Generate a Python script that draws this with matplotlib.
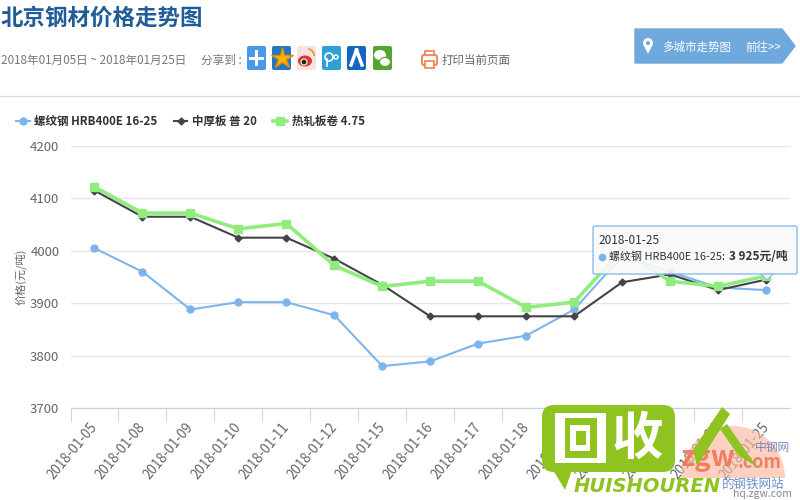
import numpy as np
import matplotlib
matplotlib.use('Agg')
import matplotlib.pyplot as plt
from matplotlib.patches import FancyBboxPatch, Polygon, Circle, Wedge, Rectangle, Ellipse
from matplotlib.transforms import ScaledTranslation

plt.rcParams['font.family'] = ['Noto Sans CJK SC', 'DejaVu Sans']

dates = ['2018-01-05', '2018-01-08', '2018-01-09', '2018-01-10', '2018-01-11',
         '2018-01-12', '2018-01-15', '2018-01-16', '2018-01-17', '2018-01-18',
         '2018-01-19', '2018-01-22', '2018-01-23', '2018-01-24', '2018-01-25']
rebar = [4005, 3960, 3888, 3902, 3902, 3877, 3780, 3789, 3823, 3838, 3888, 3990, 3960, 3930, 3925]
plate = [4115, 4065, 4065, 4025, 4025, 3985, 3935, 3875, 3875, 3875, 3875, 3940, 3955, 3925, 3945]
coil = [4122, 4072, 4072, 4042, 4052, 3972, 3932, 3942, 3942, 3892, 3902, 4002, 3942, 3932, 3952]
yticks = [3700, 3800, 3900, 4000, 4100, 4200]

blue = '#7cb5ec'
dark = '#434348'
green = '#90ed7d'

fig = plt.figure(figsize=(8, 5), dpi=100)
ax = fig.add_axes([70.5/800, 92/500, 719.5/800, 262/500])
x = np.arange(len(dates))
ax.plot(x, rebar, c=blue, lw=1.5, marker='o', ms=5, label='螺纹钢 HRB400E 16-25')
ax.plot(x, plate, c=dark, lw=1.5, marker='D', ms=3.5, label='中厚板 普 20')
ax.plot(x, coil, c=green, lw=2.6, marker='s', ms=5.5, label='热轧板卷 4.75')
ax.set_xlim(-0.5, 14.5)
ax.set_ylim(3700, 4200)
ax.set_yticks(yticks)
ax.grid(axis='y', color='#e6e6e6', lw=1)
ax.set_axisbelow(True)
for s in ['top', 'right', 'left']:
    ax.spines[s].set_visible(False)
ax.spines['bottom'].set_color('#c0d0e0')
ax.tick_params(axis='y', length=0, labelsize=9.5, labelcolor='#666666', pad=8)
ax.set_xticks(x - 0.5, minor=True)
ax.tick_params(axis='x', which='minor', length=10, color='#c0d0e0')
ax.tick_params(axis='x', which='major', length=0)
ax.set_xticks(x)
ax.set_xticklabels(dates, rotation=50, ha='right', va='top', rotation_mode='anchor',
                   fontsize=9.7, color='#666666')
ax.tick_params(axis='x', which='major', pad=9)
# nudge the date labels a few pixels left
shift = ScaledTranslation(-5/100, 0, fig.dpi_scale_trans)
for lab in ax.get_xticklabels():
    lab.set_transform(lab.get_transform() + shift)
ax.set_ylabel('价格(元/吨)', fontsize=8, color='#666666')
ax.yaxis.set_label_coords(-44/719.5, 0.5)
ax.legend(loc='upper left', bbox_to_anchor=(-0.076, 1.12), ncol=3, frameon=False,
          prop={'size': 8.3, 'weight': 'bold'}, labelcolor='#333333', handlelength=1.2,
          handletextpad=0.4, columnspacing=1.4, borderpad=0, borderaxespad=0)

# page header, tooltip and watermarks in pixel coordinates
top = fig.add_axes([0, 0, 1, 1], zorder=5)
top.set_xlim(0, 800)
top.set_ylim(500, 0)
top.axis('off')
top.patch.set_alpha(0)

top.text(1, 18, '北京钢材价格走势图', fontsize=16.2, weight='bold', color='#1f5c99', va='center')
top.text(1, 60, '2018年01月05日 ~ 2018年01月25日', fontsize=8.4, color='#777777', va='center')
top.text(201, 60, '分享到 :', fontsize=8.4, color='#777777', va='center')
top.plot([0, 800], [96, 96], c='#dddddd', lw=1)

icon_cols = ['#4a98e8', '#1f78c8', '#f6e2de', '#2f9fd6', '#1565c0', '#55a630']
icon_x = [247, 272, 297, 322, 347, 373]
for ix, col in zip(icon_x, icon_cols):
    top.add_patch(FancyBboxPatch((ix, 46), 19, 24, boxstyle='round,pad=0,rounding_size=2',
                                 fc=col, ec='none'))
# share icons
top.add_patch(Rectangle((249, 56.5), 15, 3, fc='white', ec='none'))
top.add_patch(Rectangle((255, 50), 3, 16, fc='white', ec='none'))
top.plot([281.5], [58], marker='*', ms=16, c='#f5b50a', mec='#e08a00')
top.add_patch(Ellipse((305, 61), 14, 11, fc='#d9362b', ec='none'))
top.add_patch(Circle((304, 62), 3, fc='#222222', ec='white', lw=0.8))
top.add_patch(Wedge((307, 56), 8, 280, 360, width=1.5, fc='#f08a20', ec='none'))
top.add_patch(Circle((329, 57), 4, fc='none', ec='white', lw=1.2))
top.plot([327, 327], [59, 66], c='white', lw=1.2)
top.add_patch(Circle((336, 57), 2, fc='none', ec='white', lw=1))
top.plot([356.5, 351], [50, 65], c='white', lw=2.5)
top.plot([356.5, 362], [50, 65], c='white', lw=2.5)
top.add_patch(Ellipse((380, 55), 12, 10, fc='white', ec='none'))
top.add_patch(Ellipse((385, 62), 11, 9, fc='white', ec='#55a630', lw=0.8))

# print icon
top.add_patch(FancyBboxPatch((422, 55), 15, 10, boxstyle='round,pad=0,rounding_size=2',
                             fc='white', ec='#f08a5d', lw=1.5))
top.add_patch(Rectangle((425, 51), 9, 4, fc='white', ec='#f08a5d', lw=1.3))
top.add_patch(Rectangle((425, 61), 9, 7, fc='white', ec='#f08a5d', lw=1.3))
top.text(442, 60, '打印当前页面', fontsize=8.3, color='#666666', va='center')

# city button
top.add_patch(Polygon([[635, 29], [782, 29], [795, 46], [782, 63], [635, 63]],
                      closed=True, fc='#6fa8dc', ec='#6fa8dc', lw=1, joinstyle='round'))
top.add_patch(Circle((648, 43), 5, fc='white', ec='none'))
top.add_patch(Polygon([[643.5, 45], [652.5, 45], [648, 54]], closed=True, fc='white', ec='none'))
top.add_patch(Circle((648, 43), 2, fc='#6fa8dc', ec='none'))
top.text(662, 47, '多城市走势图', fontsize=8.3, color='white', va='center')
top.text(745, 47, '前往>>', fontsize=8.3, color='white', va='center')

# tooltip
top.add_patch(Polygon([[760, 273], [767, 280], [774, 273]], closed=True, fc='#f9f9f9', ec=blue,
                      lw=0.8, alpha=0.9))
top.add_patch(FancyBboxPatch((593, 226), 204, 48, boxstyle='round,pad=0,rounding_size=2',
                             fc='#f9f9f9', ec=blue, lw=1, alpha=0.9))
top.text(598, 241, '2018-01-25', fontsize=8.5, color='#333333', va='center')
top.plot([602], [257], 'o', c=blue, ms=4.5)
top.text(609, 257, '螺纹钢 HRB400E 16-25:', fontsize=7.9, color='#333333', va='center')
top.text(729, 257, '3 925元/吨', fontsize=8.5, color='#333333', va='center', weight='bold')

# zgw watermark
top.add_patch(Wedge((733, 478), 52, 180, 360, fc='#fbb9a0', ec='none', alpha=0.65, zorder=1))
top.text(708, 458, 'zgw', fontsize=20, weight='bold', style='italic', color='#f07050',
         ha='center', va='center', alpha=0.85)
top.text(760, 462, '.com', fontsize=13, weight='bold', color='#f07050', ha='center', va='center',
         alpha=0.85)
top.text(772, 447, '中钢网', fontsize=8.5, color='#6a7fb5', ha='center', va='center', alpha=0.9)
top.text(753, 484, '的钢铁网站', fontsize=9, color='#6a8fc8', ha='center', va='center')
top.text(762, 494, 'hq.zgw.com', fontsize=7.5, color='#888888', ha='center', va='center')

# huishouren logo
logo = '#8fc31f'
top.add_patch(FancyBboxPatch((542, 405), 133, 67, boxstyle='round,pad=0,rounding_size=12',
                             fc=logo, ec='none', zorder=3))
top.add_patch(Polygon([[544, 455], [565, 490], [572, 470]], closed=True, fc=logo, ec='none', zorder=3))
top.add_patch(Rectangle((555, 413), 51, 50, fc='white', ec='none', zorder=4))
top.add_patch(Rectangle((565, 418), 32, 40, fc=logo, ec='none', zorder=4))
top.add_patch(Rectangle((570, 425), 20, 26, fc='white', ec='none', zorder=4))
top.add_patch(Rectangle((576, 431), 10, 14, fc=logo, ec='none', zorder=4))
top.text(637, 438, '收', fontsize=37, weight='black', color='white', ha='center', va='center', zorder=4)
top.text(647, 487, 'HUISHOUREN', fontsize=14, weight='bold', style='italic', color=logo,
         ha='center', va='center', zorder=4, family='DejaVu Sans')
top.add_patch(Polygon([[722, 407], [730, 414], [697, 466], [693, 450]], closed=True, fc=logo, ec='none', zorder=4))
top.add_patch(Polygon([[720, 429], [727, 424], [757, 467], [738, 455]], closed=True, fc=logo, ec='none', zorder=4))

fig.savefig('out.png', dpi=100)
